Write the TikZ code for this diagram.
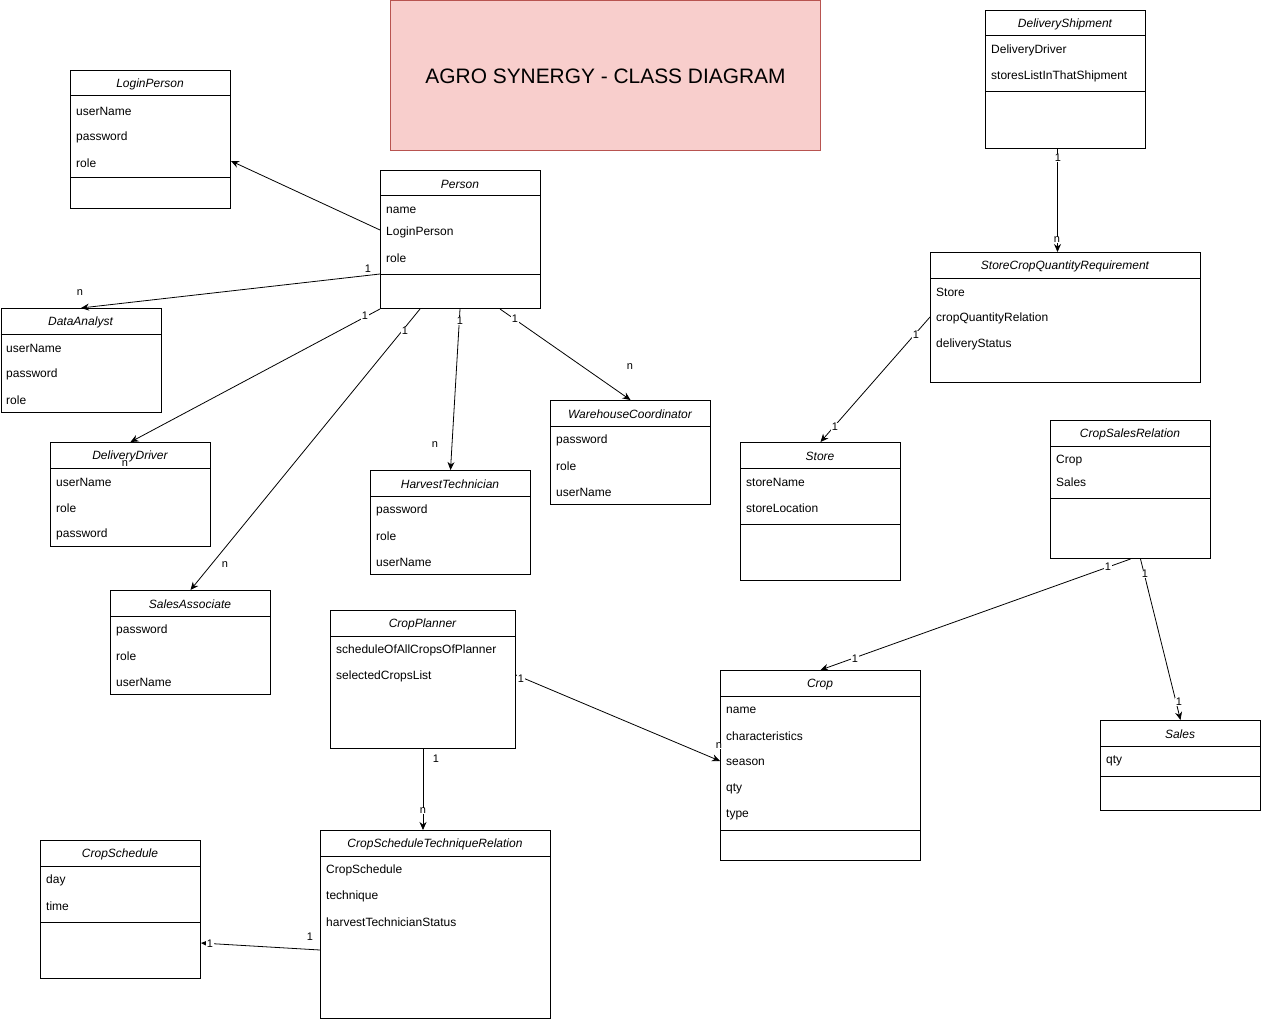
\documentclass[tikz,border=0pt]{standalone}
\usepackage{fontspec}
\setmainfont{Liberation Sans}
\usetikzlibrary{arrows.meta,calc}
\definecolor{titlefill}{HTML}{F8CECC}
\definecolor{titledraw}{HTML}{B85450}
\newcommand{\umlbox}[6]{%
  \node[clsbox,minimum width=#4pt,minimum height=#5pt] (#1) at (#2,#3) {};
  \draw[line width=1pt] (#2,#3+26) -- (#2+#4,#3+26);
  \node[hdr] (#1-t) at (#2+#4/2,#3+13) {#6};}
\newcommand{\umlsep}[2]{\draw[line width=1pt] ($(#1.north west)+(0,#2)$) -- ($(#1.north east)+(0,#2)$);}
\newcommand{\umlattr}[4]{\node[attr] (#1) at (#2,#3) {#4};}
\begin{document}
\begin{tikzpicture}[x=1pt,y=-1pt,
 clsbox/.style={draw,line width=1pt,inner sep=0pt,anchor=north west},
 hdr/.style={font=\fontsize{12}{14}\selectfont\itshape,inner sep=0pt,yshift=-1.5pt},
 attr/.style={font=\fontsize{12}{14}\selectfont,anchor=west,inner sep=0pt,yshift=-1.5pt},
 arr/.style={-{Stealth[length=8pt,width=7pt]},line width=0.8pt},
 lbl/.style={font=\fontsize{11}{12}\selectfont,inner sep=0.5pt,fill=white}]
\useasboundingbox (0,0) rectangle (1261,1019);
% title
\node[draw=titledraw,fill=titlefill,line width=1pt,minimum width=430pt,minimum height=150pt,anchor=north west,inner sep=0pt,font=\fontsize{20.9}{24}\selectfont] (title) at (390,0.5) {AGRO SYNERGY - CLASS DIAGRAM};
% LoginPerson
\umlbox{loginperson}{70}{70}{160}{138}{LoginPerson}
\umlattr{lp1}{76}{110}{userName}
\umlattr{lp2}{76}{136}{password}
\umlattr{lp3}{76}{162}{role}
\umlsep{loginperson}{108}
% Person
\umlbox{person}{380}{170}{160}{138}{Person}
\umlattr{p1}{386}{209}{name}
\umlattr{p2}{386}{231}{LoginPerson}
\umlattr{p3}{386}{257}{role}
\umlsep{person}{104}
% DataAnalyst
\umlbox{dataanalyst}{0.5}{308}{160}{104}{DataAnalyst}
\umlattr{da1}{6}{347}{userName}
\umlattr{da2}{6}{373}{password}
\umlattr{da3}{6}{399}{role}
% DeliveryDriver
\umlbox{deliverydriver}{50}{442}{160}{104}{DeliveryDriver}
\umlattr{dd1}{56}{481}{userName}
\umlattr{dd2}{56}{507}{role}
\umlattr{dd3}{56}{533}{password}
% SalesAssociate
\umlbox{salesassociate}{110}{590}{160}{104}{SalesAssociate}
\umlattr{sa1}{116}{629}{password}
\umlattr{sa2}{116}{655}{role}
\umlattr{sa3}{116}{681}{userName}
% HarvestTechnician
\umlbox{harvest}{370}{470}{160}{104}{HarvestTechnician}
\umlattr{ht1}{376}{509}{password}
\umlattr{ht2}{376}{535}{role}
\umlattr{ht3}{376}{561}{userName}
% WarehouseCoordinator
\umlbox{warehouse}{550}{400}{160}{104}{WarehouseCoordinator}
\umlattr{wc1}{556}{439}{password}
\umlattr{wc2}{556}{465}{role}
\umlattr{wc3}{556}{491}{userName}
% DeliveryShipment
\umlbox{shipment}{985}{10}{160}{138}{DeliveryShipment}
\umlattr{ds1}{991}{49}{DeliveryDriver}
\umlattr{ds2}{991}{75}{storesListInThatShipment}
\umlsep{shipment}{82}
% StoreCropQuantityRequirement
\umlbox{scqr}{930}{252}{270}{130}{StoreCropQuantityRequirement}
\umlattr{sq1}{936}{291}{Store}
\umlattr{sq2}{936}{317}{cropQuantityRelation}
\umlattr{sq3}{936}{343}{deliveryStatus}
% Store
\umlbox{store}{740}{442}{160}{138}{Store}
\umlattr{st1}{746}{481}{storeName}
\umlattr{st2}{746}{507}{storeLocation}
\umlsep{store}{82}
% CropSalesRelation
\umlbox{csr}{1050}{420}{160}{138}{CropSalesRelation}
\umlattr{cs1}{1056}{459}{Crop}
\umlattr{cs2}{1056}{481}{Sales}
\umlsep{csr}{78}
% CropPlanner
\umlbox{cropplanner}{330}{610}{185}{138}{CropPlanner}
\umlattr{cp1}{336}{649}{scheduleOfAllCropsOfPlanner}
\umlattr{cp2}{336}{675}{selectedCropsList}
% Crop
\umlbox{crop}{720}{670}{200}{190}{Crop}
\umlattr{c1}{726}{709}{name}
\umlattr{c2}{726}{735}{characteristics}
\umlattr{c3}{726}{761}{season}
\umlattr{c4}{726}{787}{qty}
\umlattr{c5}{726}{813}{type}
\umlsep{crop}{160}
% Sales
\umlbox{sales}{1100}{720}{160}{90}{Sales}
\umlattr{s1}{1106}{759}{qty}
\umlsep{sales}{56}
% CropSchedule
\umlbox{cropschedule}{40}{840}{160}{138}{CropSchedule}
\umlattr{sc1}{46}{879}{day}
\umlattr{sc2}{46}{905}{time}
\umlsep{cropschedule}{82}
% CropScheduleTechniqueRelation
\umlbox{cstr}{320}{830}{230}{188}{CropScheduleTechniqueRelation}
\umlattr{ct1}{326}{869}{CropSchedule}
\umlattr{ct2}{326}{895}{technique}
\umlattr{ct3}{326}{921}{harvestTechnicianStatus}
% connectors
\draw[arr] ($(person.north west)+(0,60)$) -- ($(loginperson.north east)+(0,91)$);
\draw[arr] ($(person.north west)+(0,104)$) -- (dataanalyst.north);
\draw[arr] (person.south west) -- (deliverydriver.north);
\draw[arr] ($(person.south west)+(40,0)$) -- (salesassociate.north);
\draw[arr] ($(person.south west)+(80,0)$) -- (harvest.north);
\draw[arr] ($(person.south west)+(120,0)$) -- (warehouse.north);
\draw[arr] ($(shipment.south)+(-8,0)$) -- ($(scqr.north)+(-8,0)$);
\draw[arr] ($(scqr.north west)+(0,65)$) -- (store.north);
\draw[arr] (csr.south) -- (crop.north);
\draw[arr] ($(csr.south)+(10,0)$) -- (sales.north);
\draw[arr] ($(cropplanner.north east)+(0,65)$) -- ($(crop.north west)+(0,91)$);
\draw[arr] (cropplanner.south) -- (cropplanner.south |- cstr.north);
\draw[arr] ($(cstr.north west)+(0,120)$) -- ($(cropschedule.north east)+(0,103)$);
% multiplicity labels
\node[lbl] at (368,269) {1};
\node[lbl] at (80,293) {n};
\node[lbl] at (365,316) {1};
\node[lbl,fill=none] at (125,464) {n};
\node[lbl] at (405,331) {1};
\node[lbl] at (225,565) {n};
\node[lbl] at (460,321) {1};
\node[lbl] at (435,445) {n};
\node[lbl] at (515,319) {1};
\node[lbl] at (630,367) {n};
\node[lbl] at (1058,158) {1};
\node[lbl] at (1057,240) {n};
\node[lbl] at (916,335) {1};
\node[lbl] at (835,427) {1};
\node[lbl] at (1108,567) {1};
\node[lbl] at (855,659) {1};
\node[lbl] at (1145,574) {1};
\node[lbl] at (1179,702) {1};
\node[lbl] at (521,679) {1};
\node[lbl] at (719,746) {n};
\node[lbl] at (436,759) {1};
\node[lbl] at (423,811) {n};
\node[lbl] at (310,937) {1};
\node[lbl] at (210,944) {1};
\end{tikzpicture}
\end{document}
